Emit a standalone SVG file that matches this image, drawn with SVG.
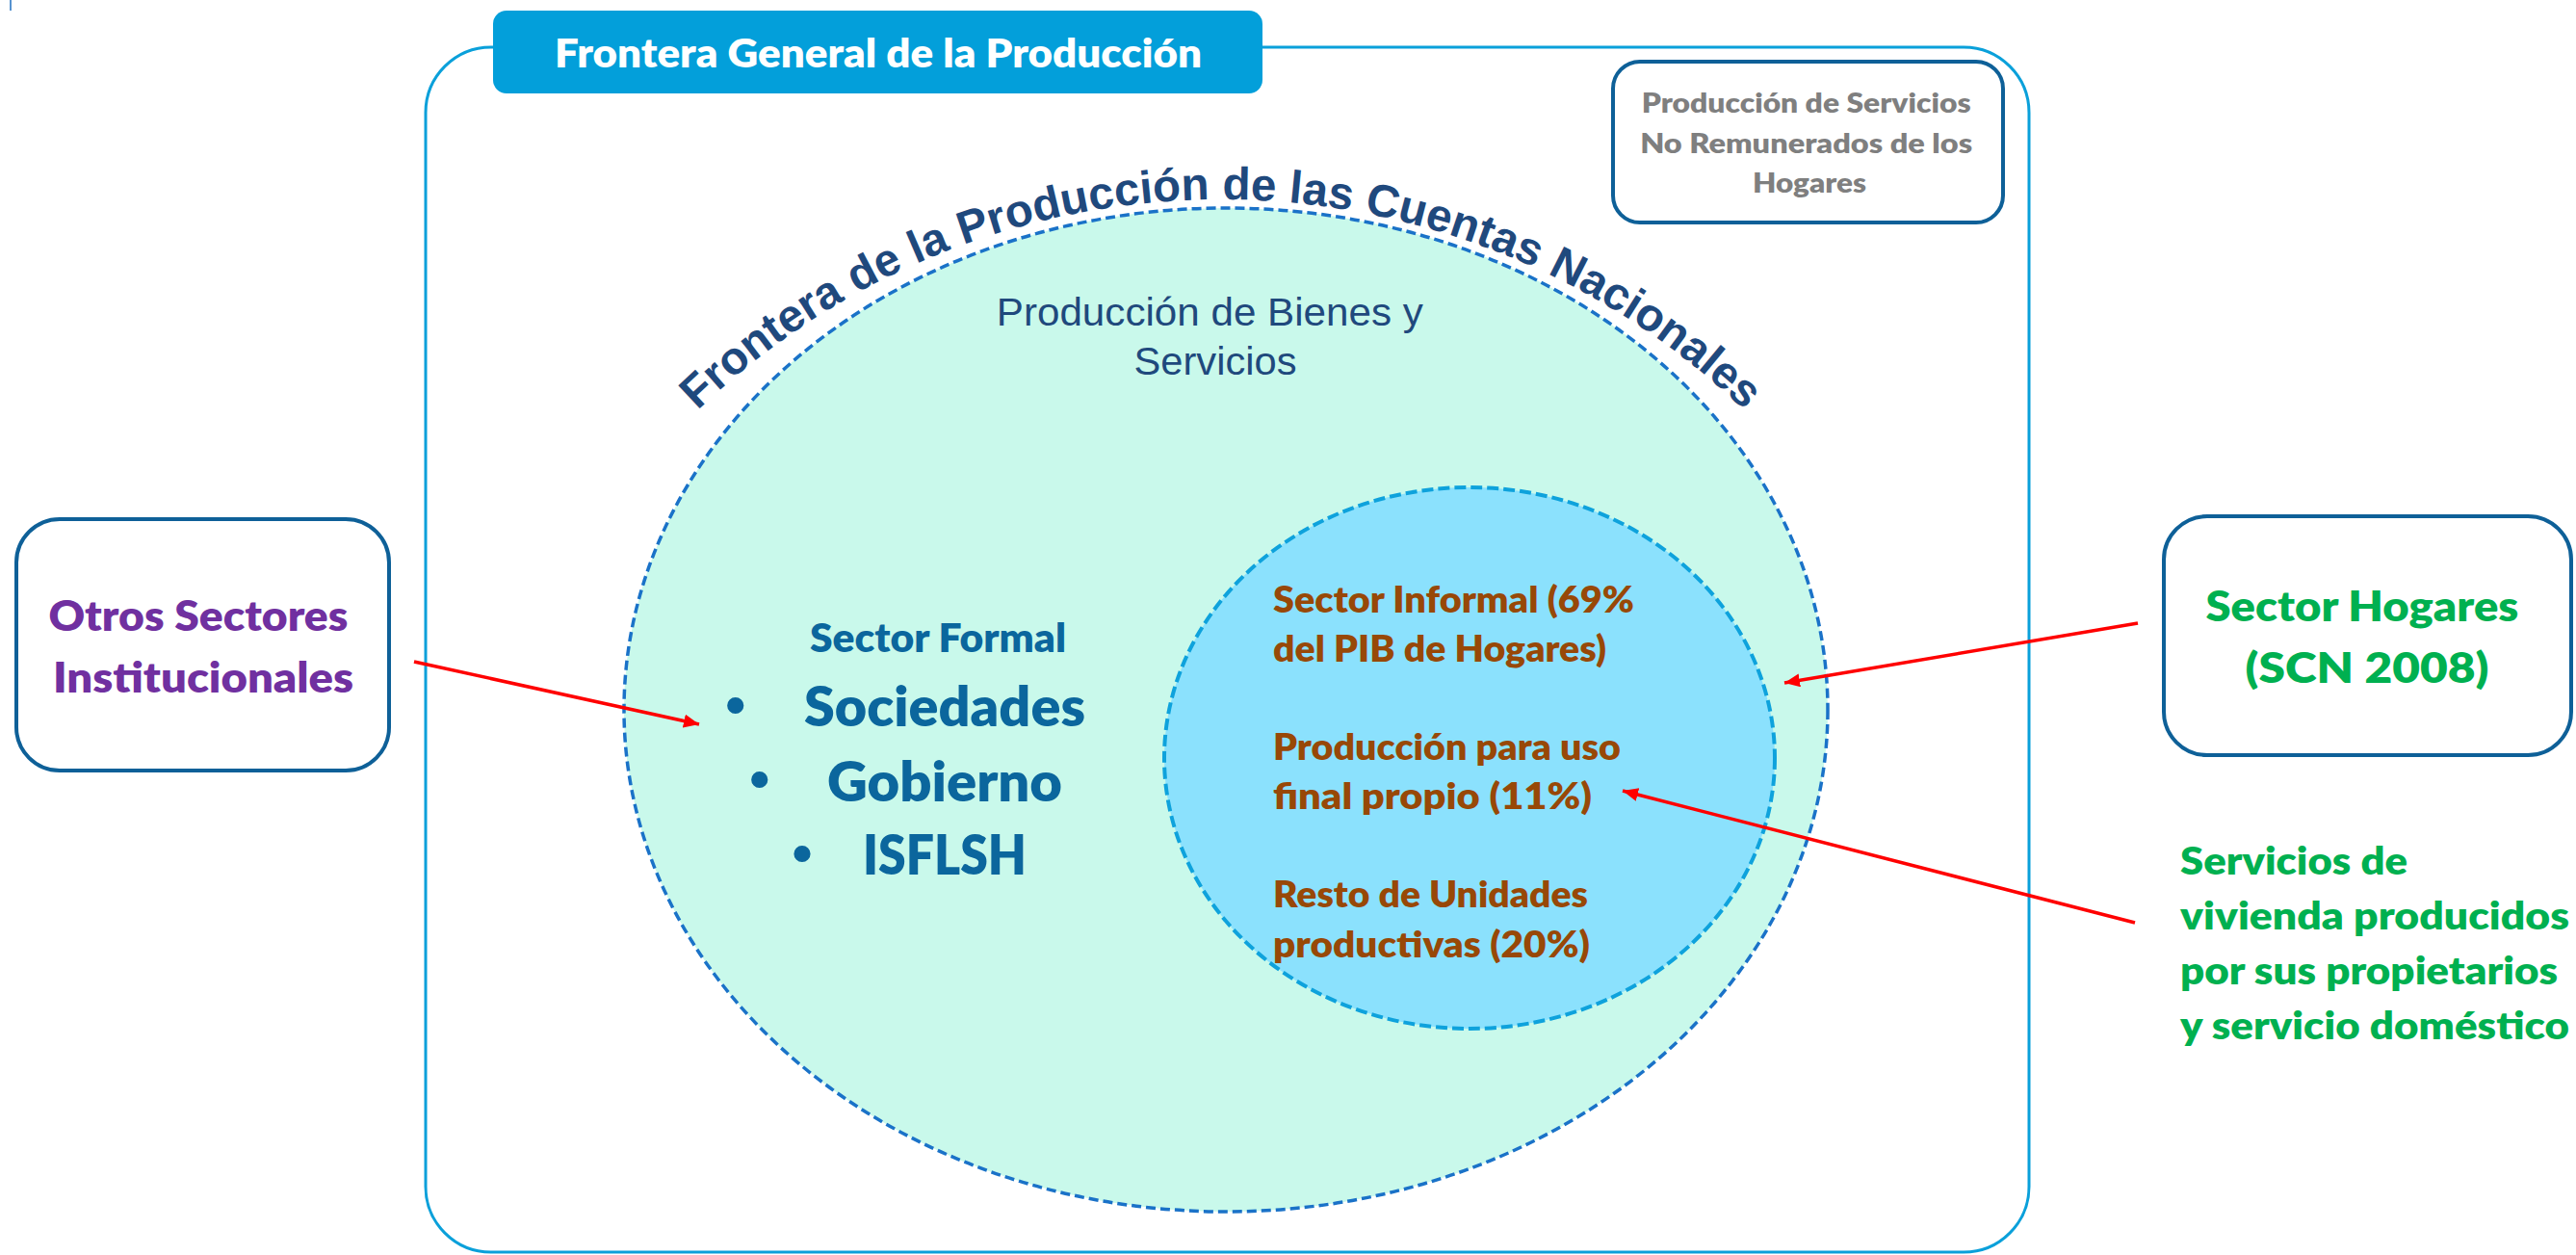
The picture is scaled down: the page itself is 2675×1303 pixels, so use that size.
<svg xmlns="http://www.w3.org/2000/svg" width="2675" height="1303" viewBox="0 0 2675 1303">
<style>
.fut{font-family:Lato,"Liberation Sans",sans-serif;font-weight:800}
.ari{font-family:"Liberation Sans",Arial,sans-serif}
.box{fill:#ffffff;stroke:#0E6098;stroke-width:4}
.brown{fill:#984807;font-size:37.5px}
.green{fill:#00B050}
.teal{fill:#0B669D}
.arrow{stroke:#FF0000;stroke-width:3.5;fill:none;marker-end:url(#ah)}
</style>
<defs>
<marker id="ah" markerUnits="userSpaceOnUse" markerWidth="18" markerHeight="16" refX="16" refY="7" orient="auto">
<path d="M0,0 L16,7 L0,14 Z" fill="#FF0000"/>
</marker>
<path id="arcText" d="M 626.6 540.9 A 783 783 0 0 1 1909.4 540.9"/>
</defs>
<rect width="2675" height="1303" fill="#ffffff"/>
<line x1="11" y1="0" x2="11" y2="11" stroke="#1F6FC0" stroke-width="1.5"/>

<g id="frontera-general">
<rect x="442" y="49" width="1665" height="1251" rx="68" ry="68" fill="none" stroke="#0AA0DA" stroke-width="3"/>
<rect x="512" y="11" width="799" height="86" rx="14" ry="14" fill="#039FDA"/>
<text class="fut" x="912" y="70" font-size="42" fill="#ffffff" text-anchor="middle" textLength="672" lengthAdjust="spacingAndGlyphs">Frontera General de la Producción</text>
</g>

<g id="servicios-no-remunerados">
<rect class="box" x="1675" y="64" width="405" height="167" rx="28" ry="28"/>
<text class="fut" font-size="29" fill="#7F7F7F" text-anchor="middle">
<tspan x="1879" y="117" textLength="342" lengthAdjust="spacingAndGlyphs">Producción de Servicios</tspan>
<tspan x="1879" y="159" textLength="345" lengthAdjust="spacingAndGlyphs">No Remunerados de los</tspan>
<tspan x="1879" y="200" textLength="118" lengthAdjust="spacingAndGlyphs">Hogares</tspan>
</text>
</g>

<g id="frontera-cuentas-nacionales">
<ellipse cx="1273" cy="737" rx="625" ry="521" fill="#C9F9EB" stroke="#1A72C8" stroke-width="3.5" stroke-dasharray="10 5"/>
<text class="ari" font-size="47.5" font-weight="700" fill="#1F497D"><textPath href="#arcText" startOffset="50%" text-anchor="middle">Frontera de la Producción de las Cuentas Nacionales</textPath></text>
<text class="ari" font-size="41" fill="#1F497D" text-anchor="middle">
<tspan x="1262" y="338" textLength="443" lengthAdjust="spacingAndGlyphs">Producción de Bienes y</tspan>
<tspan x="1262" y="389" textLength="169" lengthAdjust="spacingAndGlyphs">Servicios</tspan>
</text>
</g>

<g id="sector-formal">
<text class="fut teal" x="841" y="677" font-size="41" textLength="266" lengthAdjust="spacingAndGlyphs">Sector Formal</text>
<text class="ari teal" font-size="60" text-anchor="middle" font-weight="700">
<tspan x="772" y="752">•</tspan>
<tspan x="797" y="829">•</tspan>
<tspan x="833" y="906">•</tspan>
</text>
<text class="fut teal" font-size="56">
<tspan x="835" y="754" textLength="292" lengthAdjust="spacingAndGlyphs">Sociedades</tspan>
<tspan x="859" y="832" textLength="244" lengthAdjust="spacingAndGlyphs">Gobierno</tspan>
<tspan x="896" y="908" textLength="170" lengthAdjust="spacingAndGlyphs">ISFLSH</tspan>
</text>
</g>

<g id="sector-informal">
<ellipse cx="1526" cy="787" rx="317" ry="281" fill="#8BE1FD" stroke="#0EA2DC" stroke-width="4" stroke-dasharray="12 5"/>
<text class="fut brown">
<tspan x="1322" y="636" textLength="375" lengthAdjust="spacingAndGlyphs">Sector Informal (69%</tspan>
<tspan x="1322" y="687" textLength="346" lengthAdjust="spacingAndGlyphs">del PIB de Hogares)</tspan>
<tspan x="1322" y="789" textLength="361" lengthAdjust="spacingAndGlyphs">Producción para uso</tspan>
<tspan x="1322" y="840" textLength="331" lengthAdjust="spacingAndGlyphs">final propio (11%)</tspan>
<tspan x="1322" y="942" textLength="327" lengthAdjust="spacingAndGlyphs">Resto de Unidades</tspan>
<tspan x="1322" y="994" textLength="329" lengthAdjust="spacingAndGlyphs">productivas (20%)</tspan>
</text>
</g>

<g id="otros-sectores">
<rect class="box" x="17" y="539" width="387" height="261" rx="45" ry="45"/>
<text class="fut" font-size="44" fill="#7030A0" text-anchor="middle">
<tspan x="211" y="655" textLength="311" lengthAdjust="spacingAndGlyphs">Otros Sectores</tspan>
<tspan x="211" y="719" textLength="312" lengthAdjust="spacingAndGlyphs">Institucionales</tspan>
</text>
</g>

<g id="sector-hogares">
<rect class="box" x="2247" y="536" width="423" height="248" rx="45" ry="45"/>
<text class="fut green" font-size="44" text-anchor="middle">
<tspan x="2458" y="645" textLength="325" lengthAdjust="spacingAndGlyphs">Sector Hogares</tspan>
<tspan x="2458" y="709" textLength="253" lengthAdjust="spacingAndGlyphs">(SCN 2008)</tspan>
</text>
</g>

<g id="servicios-vivienda">
<text class="fut green" font-size="40">
<tspan x="2264" y="908" textLength="236" lengthAdjust="spacingAndGlyphs">Servicios de</tspan>
<tspan x="2264" y="965" textLength="404" lengthAdjust="spacingAndGlyphs">vivienda producidos</tspan>
<tspan x="2264" y="1022" textLength="392" lengthAdjust="spacingAndGlyphs">por sus propietarios</tspan>
<tspan x="2264" y="1079" textLength="404" lengthAdjust="spacingAndGlyphs">y servicio doméstico</tspan>
</text>
</g>

<g id="connectors">
<line class="arrow" x1="430" y1="687" x2="726" y2="752"/>
<line class="arrow" x1="2220" y1="647" x2="1853" y2="709"/>
<line class="arrow" x1="2217" y1="958" x2="1685" y2="821"/>
</g>
</svg>
